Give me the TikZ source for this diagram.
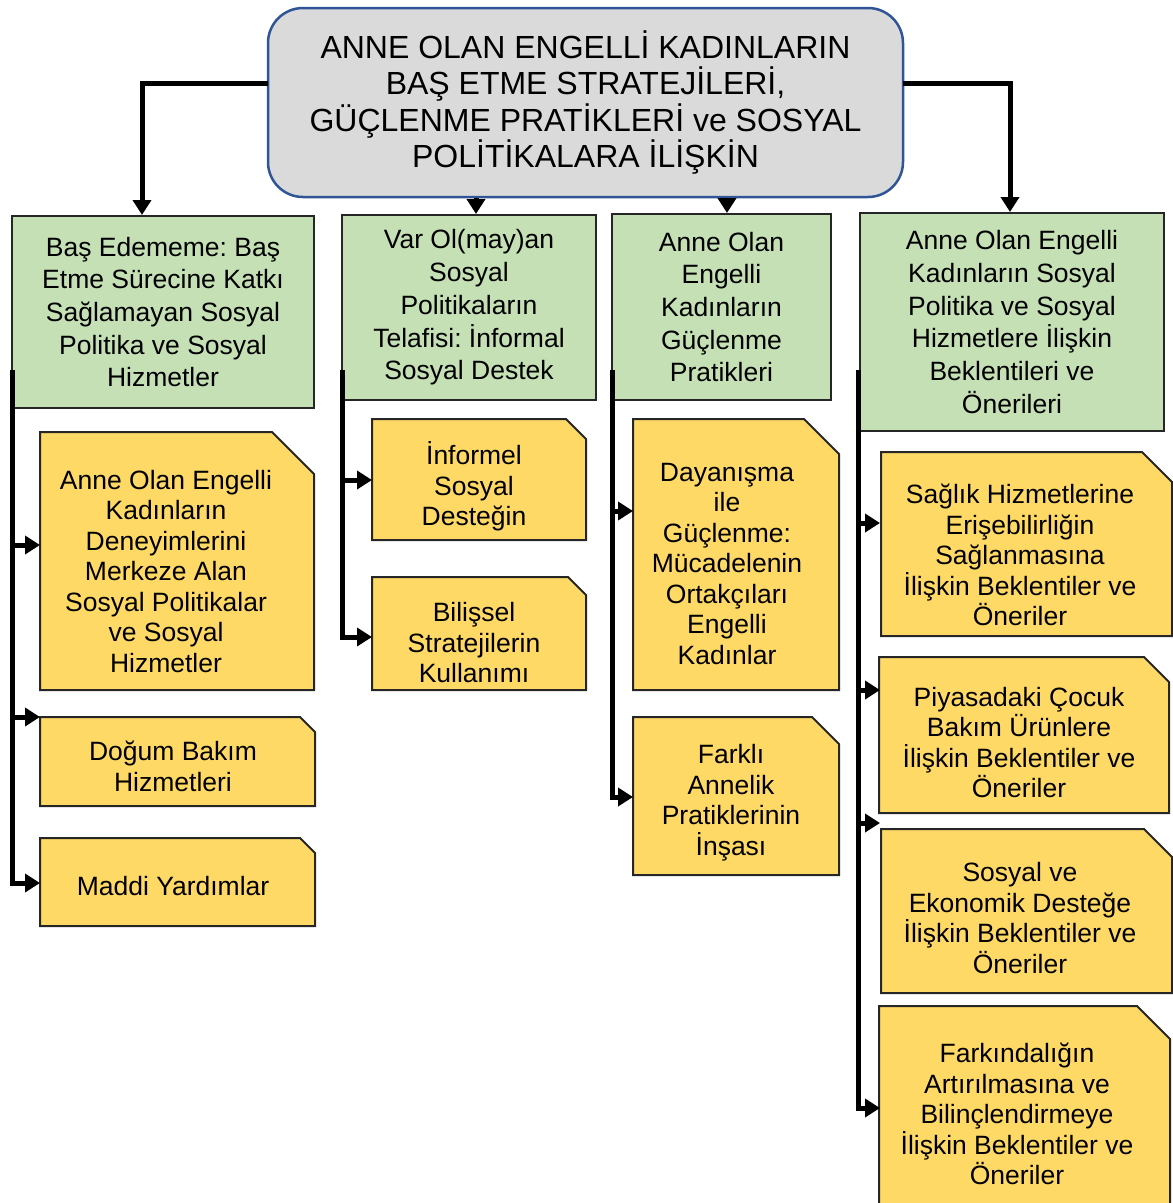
\documentclass[tikz,border=0pt]{standalone}
\usepackage{fontspec}
\setmainfont{Liberation Sans}
\usetikzlibrary{arrows.meta}
\definecolor{gfill}{HTML}{C5E0B4}
\definecolor{yfill}{HTML}{FFD966}
\definecolor{tfill}{HTML}{DADADA}
\definecolor{tborder}{HTML}{2F5597}
\newcommand\cutbox[5]{\path[ybox] (#1,#2) -- ({#3-#5},#2) -- (#3,{#2+#5}) -- (#3,#4) -- (#1,#4) -- cycle;}
\frenchspacing
\begin{document}
\begin{tikzpicture}[x=1pt,y=-1pt,
  conn/.style={line width=5pt, line join=miter, -{Triangle[length=15pt,width=18pt]}},
  gbox/.style={draw=black!85, line width=2pt, fill=gfill, align=center,
    font=\fontsize{26.5}{32.7}\selectfont, inner sep=0pt},
  ybox/.style={draw=black!85, line width=2pt, fill=yfill},
  ytext/.style={align=center, font=\fontsize{26.5}{30.5}\selectfont, inner sep=0pt},
]
\useasboundingbox (0,0) rectangle (1173,1203);

% title
\node[draw=tborder, line width=2.5pt, fill=tfill, rounded corners=35pt,
  minimum width=635pt, minimum height=189pt, align=center,
  font=\fontsize{32}{36.5}\selectfont, inner sep=0pt] (T) at (585.5,102.5)
  {ANNE OLAN ENGELLİ KADINLARIN\\BAŞ ETME STRATEJİLERİ,\\GÜÇLENME PRATİKLERİ ve SOSYAL\\POLİTİKALARA İLİŞKİN};

% green boxes
\node[gbox, minimum width=302pt, minimum height=192pt] (G1) at (163,312)
  {Baş Edememe: Baş\\Etme Sürecine Katkı\\Sağlamayan Sosyal\\Politika ve Sosyal\\Hizmetler};
\node[gbox, minimum width=254pt, minimum height=185pt] (G2) at (469,307.5)
  {Var Ol(may)an\\Sosyal\\Politikaların\\Telafisi: İnformal\\Sosyal Destek};
\node[gbox, minimum width=219pt, minimum height=186pt] (G3) at (721.5,307)
  {Anne Olan\\Engelli\\Kadınların\\Güçlenme\\Pratikleri};
\node[gbox, minimum width=304pt, minimum height=218pt] (G4) at (1012,322)
  {Anne Olan Engelli\\Kadınların Sosyal\\Politika ve Sosyal\\Hizmetlere İlişkin\\Beklentileri ve\\Önerileri};

% title connectors
\coordinate (TL) at (268,83);
\coordinate (TR) at (903,83);
\draw[conn] (TL) -| (G1.north -| 142,0);
\draw[conn] (TR) -| (G4.north -| 1010,0);
\draw[conn] (T.south -| 476,0) -- (G2.north -| 476,0);
\draw[conn] (T.south -| 727,0) -- (G3.north -| 727,0);

% yellow boxes
\cutbox{40}{432}{314}{690}{42}
\cutbox{40}{717}{315}{806}{15}
\cutbox{40}{838}{315}{926}{15}
\cutbox{372}{419}{586}{540}{20}
\cutbox{372}{577}{586}{690}{18}
\cutbox{633}{419}{839}{690}{35}
\cutbox{633}{717}{839}{875}{27}
\cutbox{881}{452}{1172}{636}{30}
\cutbox{879}{657}{1169}{813}{25}
\cutbox{881}{829}{1172}{993}{28}
\cutbox{879}{1006}{1170}{1215}{33}

\node[ytext] (Y1) at (166,571.5) {Anne Olan Engelli\\Kadınların\\Deneyimlerini\\Merkeze Alan\\Sosyal Politikalar\\ve Sosyal\\Hizmetler};
\node[ytext] (Y2) at (173,766.5) {Doğum Bakım\\Hizmetleri};
\node[ytext] (Y3) at (173,886) {Maddi Yardımlar};
\node[ytext] (Y4) at (474,486.5) {İnformel\\Sosyal\\Desteğin};
\node[ytext] (Y5) at (474,643) {Bilişsel\\Stratejilerin\\Kullanımı};
\node[ytext] (Y6) at (727,564) {Dayanışma\\ile\\Güçlenme:\\Mücadelenin\\Ortakçıları\\Engelli\\Kadınlar};
\node[ytext] (Y7) at (731,802.5) {Farklı\\Annelik\\Pratiklerinin\\İnşası};
\node[ytext] (Y8) at (1020,555) {Sağlık Hizmetlerine\\Erişebilirliğin\\Sağlanmasına\\İlişkin Beklentiler ve\\Öneriler};
\node[ytext] (Y9) at (1019,742.5) {Piyasadaki Çocuk\\Bakım Ürünlere\\İlişkin Beklentiler ve\\Öneriler};
\node[ytext] (Y10) at (1020,918) {Sosyal ve\\Ekonomik Desteğe\\İlişkin Beklentiler ve\\Öneriler};
\node[ytext] (Y11) at (1017,1114) {Farkındalığın\\Artırılmasına ve\\Bilinçlendirmeye\\İlişkin Beklentiler ve\\Öneriler};

% entry points
\coordinate (Y1in) at (40,545);
\coordinate (Y2in) at (40,717);
\coordinate (Y3in) at (40,883);
\coordinate (Y4in) at (372,480);
\coordinate (Y5in) at (372,637);
\coordinate (Y6in) at (633,511);
\coordinate (Y7in) at (633,797);
\coordinate (Y8in) at (880,523);
\coordinate (Y9in) at (880,690);
\coordinate (Y10in) at (880,823);
\coordinate (Y11in) at (880,1108);

% trunk tops
\coordinate (K1) at (12,370);
\coordinate (K2) at (342,370);
\coordinate (K3) at (612,370);
\coordinate (K4) at (858,370);

% column 1
\draw[conn] (K1) |- (Y3in);
\draw[conn] (K1 |- Y1in) -- (Y1in);
\draw[conn] (K1 |- Y2in) -- (Y2in);
% column 2
\draw[conn] (K2) |- (Y5in);
\draw[conn] (K2 |- Y4in) -- (Y4in);
% column 3
\draw[conn] (K3) |- (Y7in);
\draw[conn] (K3 |- Y6in) -- (Y6in);
% column 4
\draw[conn] (K4) |- (Y11in);
\draw[conn] (K4 |- Y8in) -- (Y8in);
\draw[conn] (K4 |- Y9in) -- (Y9in);
\draw[conn] (K4 |- Y10in) -- (Y10in);
\end{tikzpicture}
\end{document}
